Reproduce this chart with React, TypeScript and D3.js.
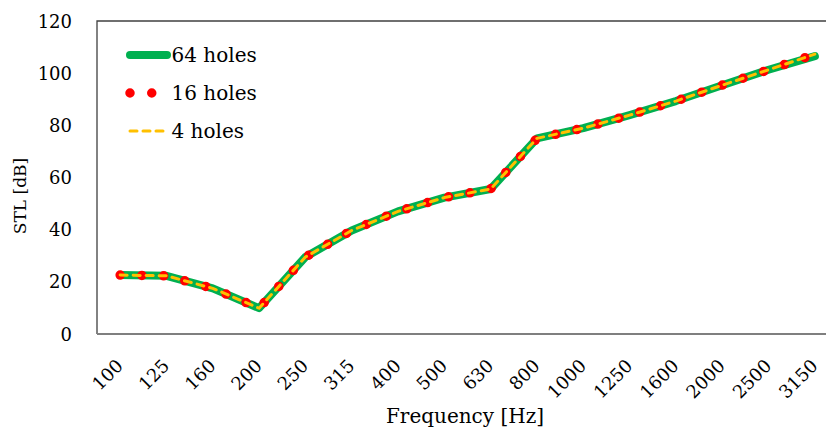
import React, { useRef, useEffect } from "react";
import * as d3 from "d3";

// 1/3 octave band centre frequencies
const freqLabels = ["100", "125", "160", "200", "250", "315", "400", "500", "630", "800", "1000", "1250", "1600", "2000", "2500", "3150"];

// sound transmission loss [dB] per band
const stl64 = [22.6, 22.3, 17.5, 9.9, 29.5, 39.7, 47.0, 52.3, 55.6, 75.0, 78.9, 83.9, 89.3, 95.4, 101.3, 106.5];
const stl16 = [22.6, 22.3, 17.5, 9.9, 29.5, 39.7, 47.0, 52.3, 55.6, 75.0, 78.9, 83.9, 89.3, 95.4, 101.3, 107.2];
const stl4 = [22.6, 22.3, 17.5, 9.9, 29.5, 39.7, 47.0, 52.3, 55.6, 75.0, 78.9, 83.9, 89.3, 95.4, 101.3, 107.3];

const seriesNames = ["64 holes", "16 holes", "4 holes"];
const yTicks = [0, 20, 40, 60, 80, 100, 120];

const width = 826;
const height = 430;
const font = "'DejaVu Serif', serif";

const App = () => {
  const svgRef = useRef(null);

  useEffect(() => {
    const svg = d3.select(svgRef.current);
    svg.selectAll("*").remove();

    const left = 97, right = 838, top = 21, bottom = 334;

    const x = d3.scaleBand().domain(freqLabels).range([left, right]).padding(0);
    const cx = (c) => x(c) + x.bandwidth() / 2;
    const y = d3.scaleLinear().domain([0, 120]).range([bottom, top]);

    // plot frame
    svg.append("path")
      .attr("d", `M${left},${bottom}V${top}H${right}`)
      .attr("fill", "none")
      .attr("stroke", "#404040")
      .attr("stroke-width", 1.3);
    svg.append("line")
      .attr("x1", left).attr("x2", right)
      .attr("y1", bottom).attr("y2", bottom)
      .attr("stroke", "#7f7f7f")
      .attr("stroke-width", 2);

    // y tick labels
    svg.append("g").selectAll("text")
      .data(yTicks)
      .join("text")
      .attr("x", 72)
      .attr("y", (d) => y(d) + 6.5)
      .attr("text-anchor", "end")
      .attr("font-family", font)
      .attr("font-size", 18)
      .attr("fill", "#000")
      .text((d) => d);

    // x tick labels
    svg.append("g").selectAll("text")
      .data(freqLabels)
      .join("text")
      .attr("transform", (d) => `translate(${cx(d) + 4},367) rotate(-45)`)
      .attr("text-anchor", "end")
      .attr("font-family", font)
      .attr("font-size", 18)
      .attr("fill", "#000")
      .text((d) => d);

    // axis titles
    svg.append("text")
      .attr("x", 465)
      .attr("y", 423)
      .attr("text-anchor", "middle")
      .attr("font-family", font)
      .attr("font-size", 20)
      .text("Frequency [Hz]");
    svg.append("text")
      .attr("transform", "translate(26,196) rotate(-90)")
      .attr("text-anchor", "middle")
      .attr("font-family", font)
      .attr("font-size", 17)
      .text("STL [dB]");

    const styles = [
      { color: "#00B050", width: 8, dash: null },
      { color: "#FF0000", width: 9.5, dash: "0 21.75" },
      { color: "#FFC000", width: 3, dash: "7 6" },
    ];
    const data = [stl64, stl16, stl4];

    const lineGen = d3.line()
      .x((d, i) => cx(freqLabels[i]))
      .y((d) => y(d));

    data.forEach((values, k) => {
      const s = styles[k];
      svg.append("path")
        .datum(values)
        .attr("d", lineGen)
        .attr("fill", "none")
        .attr("stroke", s.color)
        .attr("stroke-width", s.width)
        .attr("stroke-linecap", "round")
        .attr("stroke-linejoin", "round")
        .attr("stroke-dasharray", s.dash);
    });

    // legend
    const legend = svg.append("g");
    seriesNames.forEach((name, k) => {
      const s = styles[k];
      const ly = 55 + k * 38;
      legend.append("line")
        .attr("x1", 130).attr("x2", 167)
        .attr("y1", ly).attr("y2", ly)
        .attr("stroke", s.color)
        .attr("stroke-width", s.width)
        .attr("stroke-linecap", "round")
        .attr("stroke-dasharray", s.dash);
      legend.append("text")
        .attr("x", 171.5)
        .attr("y", ly + 7)
        .attr("font-family", font)
        .attr("font-size", 20)
        .text(name);
    });
  }, []);

  return (
    <svg
      ref={svgRef}
      width={width}
      height={height}
      style={{ position: "absolute", left: 0, top: 0, background: "#fff" }}
    />
  );
};

export default App;
